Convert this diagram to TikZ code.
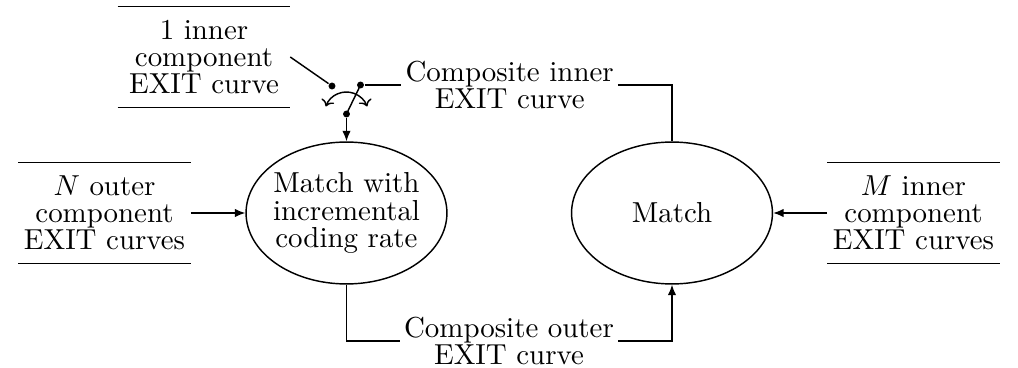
\documentclass[tikz,border=0pt]{standalone}
\usetikzlibrary{shapes.geometric,arrows.meta}
\begin{document}
\begin{tikzpicture}[
  x=0.346pt, y=0.346pt,
  font=\fontsize{10pt}{9.4pt}\selectfont,
  line width=0.5pt,
  >={Latex[length=3.6pt,width=2.9pt]},
  matcher/.style={ellipse, draw, inner sep=0pt, inner xsep=-2pt,
    minimum width=69.5pt, minimum height=49.1pt, align=center},
  curveset/.style={align=center, inner sep=0pt,
    minimum width=59.2pt, minimum height=34.4pt,
    append after command={
      (\tikzlastnode.north west) edge (\tikzlastnode.north east)
      (\tikzlastnode.south west) edge (\tikzlastnode.south east)}},
  composite/.style={align=center, inner sep=1.2pt},
  contact/.style={circle, fill, inner sep=0pt, minimum size=2.4pt}
]
\useasboundingbox (0,0) rectangle (1018,-368);

% sources of component curves
\node[curveset] (one) at (204,-57) {1 inner\\component\\EXIT curve};
\node[curveset] (nout) at (104.5,-213) {$N$ outer\\component\\EXIT curves};
\node[curveset] (minn) at (913.5,-213) {$M$ inner\\component\\EXIT curves};

% matching stages
\node[matcher] (L) at (346.5,-213) {Match with\\incremental\\coding rate};
\node[matcher] (R) at (672,-213) {Match};

% composite curve labels
\node[composite] (cin) at (509.7,-85) {Composite inner\\EXIT curve};
\node[composite] (cout) at (509,-341) {Composite outer\\EXIT curve};

% selector switch
\node[contact] (sa) at (332,-86) {};
\node[contact] (sb) at (360.5,-85) {};
\node[contact] (sc) at (346.5,-114) {};
\draw (one.east) -- (sa);
\draw (sb) -- (cin.west);
\draw (sc.center) -- (sb.center);
\draw[{To[length=2.2pt]}-{To[length=2.2pt]}]
  ([shift={(160:7.6pt)}]sc.center) arc[start angle=160, end angle=20, radius=7.6pt];
\draw[->] (sc) -- (L.north);

% flows between stages
\draw[->] (nout.east) -- (L.west);
\draw[->] (minn.west) -- (R.east);
\draw (cin.east) -| (R.north);
\draw (L.south) |- (cout.west);
\draw[->] (cout.east) -| (R.south);
\end{tikzpicture}
\end{document}
